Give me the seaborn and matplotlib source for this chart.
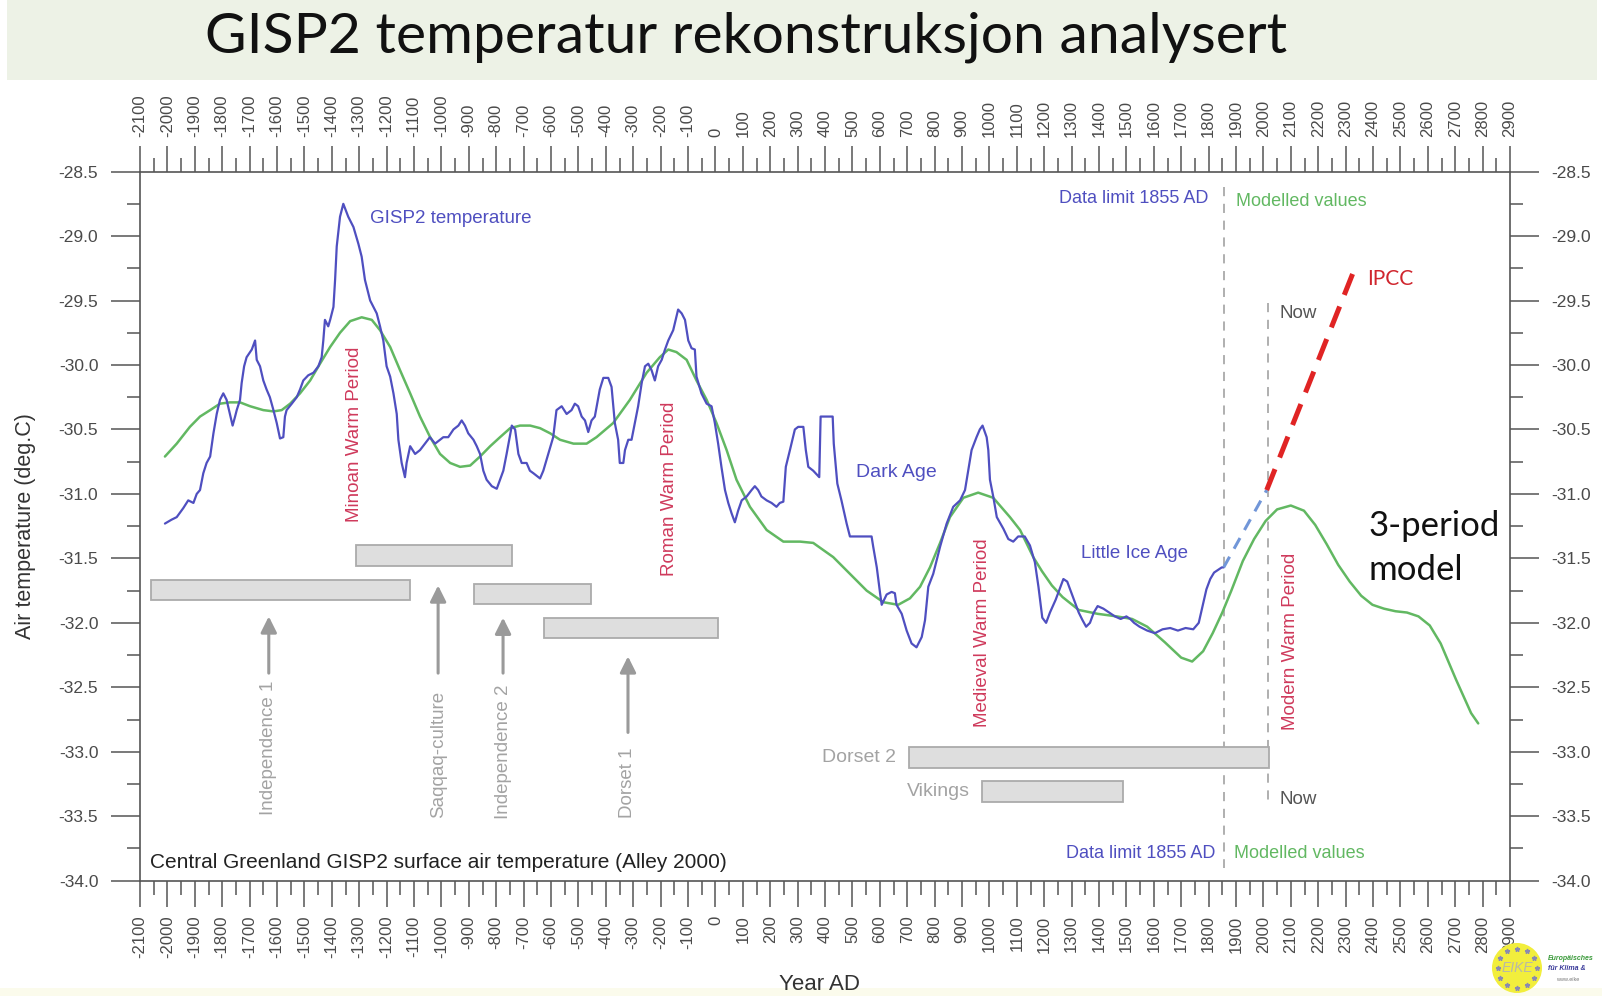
import matplotlib
matplotlib.use("Agg")
import matplotlib.pyplot as plt
from matplotlib.patches import Rectangle, Ellipse
from matplotlib.ticker import MultipleLocator, FormatStrFormatter
import numpy as np
import seaborn as sns

sns.set_theme(style="white")
plt.rcParams["font.family"] = ["Liberation Sans", "DejaVu Sans"]
plt.rcParams["axes.unicode_minus"] = False

# ---- GISP2 reconstructed surface air temperature (Alley 2000) ----
gisp2_year = [
    -2009, -1985, -1966, -1942, -1924, -1905, -1893, -1881, -1869, -1857, -1844, -1832,
    -1820, -1808, -1796, -1784, -1772, -1762, -1753, -1747, -1735, -1729, -1720, -1711,
    -1692, -1680, -1674, -1662, -1650, -1638, -1626, -1613, -1601, -1589, -1577, -1571,
    -1565, -1546, -1528, -1516, -1504, -1486, -1467, -1449, -1437, -1431, -1425, -1413,
    -1406, -1394, -1388, -1382, -1370, -1358, -1340, -1321, -1303, -1291, -1279, -1260,
    -1236, -1224, -1212, -1200, -1187, -1175, -1163, -1157, -1145, -1133, -1127, -1114,
    -1096, -1078, -1060, -1042, -1023, -1005, -993, -975, -956, -938, -926, -914,
    -902, -883, -871, -859, -847, -835, -816, -798, -786, -774, -762, -743,
    -731, -719, -707, -689, -677, -664, -640, -628, -610, -592, -580, -561,
    -543, -525, -513, -501, -488, -476, -464, -452, -440, -422, -409, -391,
    -379, -367, -355, -349, -336, -330, -318, -306, -294, -282, -269, -257,
    -245, -233, -221, -209, -196, -184, -172, -154, -136, -123, -111, -99,
    -87, -75, -69, -51, -32, -14, -2, 10, 22, 35, 47, 59,
    71, 83, 96, 114, 132, 144, 156, 168, 187, 205, 223, 235,
    248, 257, 272, 290, 302, 321, 330, 339, 357, 379, 384, 428,
    432, 445, 460, 479, 491, 570, 576, 589, 601, 607, 625, 643,
    655, 661, 680, 698, 716, 734, 753, 765, 777, 795, 820, 844,
    868, 893, 911, 935, 953, 965, 975, 990, 996, 1002, 1014, 1027,
    1051, 1069, 1087, 1105, 1129, 1148, 1166, 1179, 1193, 1207, 1221, 1242,
    1256, 1270, 1284, 1298, 1312, 1326, 1340, 1353, 1367, 1381, 1395, 1416,
    1437, 1458, 1479, 1500, 1514, 1528, 1548, 1576, 1604, 1632, 1660, 1688,
    1716, 1744, 1764, 1778, 1792, 1806, 1820, 1834, 1848, 1855,
]
gisp2_temp = [
    -31.23, -31.20, -31.18, -31.11, -31.05, -31.07, -31.00, -30.97, -30.84, -30.76, -30.71, -30.53,
    -30.38, -30.27, -30.22, -30.27, -30.38, -30.47, -30.40, -30.35, -30.27, -30.14, -30.01, -29.94,
    -29.88, -29.81, -29.96, -30.01, -30.12, -30.19, -30.25, -30.35, -30.45, -30.57, -30.56, -30.40,
    -30.35, -30.30, -30.25, -30.19, -30.12, -30.08, -30.06, -30.01, -29.94, -29.81, -29.65, -29.70,
    -29.65, -29.55, -29.34, -29.08, -28.85, -28.75, -28.85, -28.93, -29.06, -29.16, -29.34, -29.50,
    -29.60, -29.70, -29.81, -30.01, -30.09, -30.22, -30.38, -30.58, -30.76, -30.87, -30.76, -30.63,
    -30.69, -30.66, -30.61, -30.56, -30.61, -30.58, -30.56, -30.56, -30.50, -30.47, -30.43, -30.47,
    -30.53, -30.58, -30.63, -30.69, -30.82, -30.89, -30.94, -30.96, -30.89, -30.82, -30.69, -30.47,
    -30.50, -30.69, -30.76, -30.76, -30.82, -30.84, -30.88, -30.82, -30.69, -30.56, -30.35, -30.32,
    -30.38, -30.35, -30.30, -30.32, -30.40, -30.43, -30.52, -30.43, -30.40, -30.19, -30.10, -30.10,
    -30.17, -30.45, -30.58, -30.76, -30.76, -30.66, -30.58, -30.58, -30.45, -30.32, -30.14, -30.01,
    -29.99, -30.04, -30.12, -30.01, -29.96, -29.88, -29.81, -29.73, -29.57, -29.60, -29.65, -29.81,
    -29.87, -29.88, -30.09, -30.22, -30.30, -30.32, -30.45, -30.61, -30.79, -30.97, -31.07, -31.15,
    -31.22, -31.13, -31.05, -31.02, -30.97, -30.94, -30.97, -31.02, -31.05, -31.07, -31.10, -31.07,
    -31.06, -30.79, -30.66, -30.50, -30.48, -30.48, -30.66, -30.79, -30.82, -30.87, -30.40, -30.40,
    -30.61, -30.92, -31.05, -31.23, -31.33, -31.33, -31.41, -31.57, -31.77, -31.86, -31.78, -31.76,
    -31.77, -31.86, -31.93, -32.06, -32.16, -32.19, -32.11, -31.98, -31.72, -31.62, -31.41, -31.23,
    -31.10, -31.05, -30.97, -30.66, -30.56, -30.50, -30.47, -30.56, -30.66, -30.89, -31.02, -31.18,
    -31.27, -31.35, -31.37, -31.33, -31.33, -31.40, -31.53, -31.72, -31.96, -32.00, -31.92, -31.82,
    -31.74, -31.66, -31.68, -31.76, -31.84, -31.92, -31.98, -32.03, -32.00, -31.92, -31.87, -31.89,
    -31.92, -31.95, -31.97, -31.95, -31.97, -32.00, -32.03, -32.06, -32.08, -32.05, -32.04, -32.06,
    -32.04, -32.05, -32.00, -31.87, -31.74, -31.66, -31.61, -31.59, -31.57, -31.57,
]

# ---- 3-period model ----
model_year = [
    -2009, -1966, -1918, -1881, -1844, -1808, -1772, -1735, -1698, -1650, -1613, -1583,
    -1552, -1516, -1479, -1443, -1406, -1370, -1333, -1291, -1254, -1224, -1187, -1151,
    -1114, -1078, -1041, -1005, -968, -932, -895, -859, -822, -786, -749, -713,
    -676, -640, -603, -567, -518, -470, -434, -373, -312, -251, -203, -172,
    -142, -105, -69, -32, 4, 41, 77, 126, 187, 248, 309, 357,
    430, 491, 552, 613, 667, 710, 747, 783, 820, 856, 905, 959,
    1014, 1075, 1112, 1160, 1192, 1228, 1267, 1326, 1395, 1465, 1521, 1576,
    1640, 1700, 1740, 1780, 1815, 1850, 1883, 1925, 1966, 2008, 2050, 2100,
    2148, 2189, 2231, 2273, 2315, 2357, 2398, 2440, 2482, 2524, 2566, 2607,
    2647, 2703, 2758, 2784,
]
model_temp = [
    -30.71, -30.61, -30.48, -30.40, -30.35, -30.30, -30.29, -30.29, -30.32, -30.35, -30.36, -30.35,
    -30.30, -30.22, -30.12, -29.99, -29.86, -29.75, -29.66, -29.63, -29.65, -29.73, -29.86, -30.04,
    -30.22, -30.40, -30.56, -30.69, -30.76, -30.79, -30.78, -30.71, -30.63, -30.56, -30.49, -30.47,
    -30.47, -30.49, -30.53, -30.58, -30.61, -30.61, -30.56, -30.45, -30.27, -30.06, -29.94, -29.88,
    -29.90, -29.96, -30.12, -30.27, -30.45, -30.66, -30.89, -31.10, -31.28, -31.37, -31.37, -31.38,
    -31.49, -31.62, -31.75, -31.84, -31.86, -31.81, -31.72, -31.57, -31.38, -31.18, -31.03, -30.99,
    -31.03, -31.18, -31.28, -31.49, -31.60, -31.71, -31.80, -31.90, -31.93, -31.95, -31.97, -32.03,
    -32.15, -32.27, -32.30, -32.22, -32.08, -31.92, -31.75, -31.52, -31.35, -31.21, -31.12, -31.09,
    -31.13, -31.24, -31.39, -31.55, -31.68, -31.79, -31.86, -31.89, -31.91, -31.92, -31.95, -32.02,
    -32.16, -32.44, -32.70, -32.78,
]

# ---- extrapolations after the data limit ----
bridge_year = [1855, 2012]
bridge_temp = [-31.57, -30.97]
ipcc_year = [2012, 2330]
ipcc_temp = [-30.97, -29.27]

data_limit_year = 1855
now_year = 2015

# ---- settlement periods in Greenland ----
culture_names = ["Independence 1", "Saqqaq-culture", "Independence 2", "Dorset 1", "Dorset 2", "Vikings"]
culture_start = [-2059, -1312, -881, -625, 705, 973]
culture_end = [-1114, -744, -454, 11, 2019, 1489]
culture_level = [-31.745, -31.48, -31.775, -32.04, -33.045, -33.31]

arrow_year = [-1630, -1012, -775, -319]
arrow_tip = [-31.95, -31.71, -31.96, -32.26]
arrow_tail = [-32.39, -32.39, -32.39, -32.85]
arrow_label_level = [-32.97, -33.02, -33.00, -33.24]

period_names = ["Minoan Warm Period", "Roman Warm Period", "Medieval Warm Period", "Modern Warm Period"]
period_year = [-1317, -169, 976, 2098]
period_level = [-30.54, -30.96, -32.08, -32.14]

BLUE = "#4f4fc0"
GREEN = "#62b862"
RED = "#cf3a5c"
GREY_TXT = "#a3a3a3"

fig = plt.figure(figsize=(16.02, 9.96), dpi=100)
fig.patch.set_facecolor("white")

# header band and footer strip
fig.add_artist(Rectangle((7 / 1602, 1 - 80 / 996), 1590 / 1602, 80 / 996,
                         transform=fig.transFigure, facecolor="#edf2e6", edgecolor="none", zorder=0))
fig.add_artist(Rectangle((0, 0), 1, 8 / 996, transform=fig.transFigure,
                         facecolor="#fbfbec", edgecolor="none", zorder=0))
fig.text(0.466, 0.963, "GISP2 temperatur rekonstruksjon analysert", fontsize=41,
         family=["Lato", "DejaVu Sans"], ha="center", va="center", color="#111111")

ax = fig.add_axes([140 / 1602, 1 - 880.7 / 996, 1370 / 1602, 709.1 / 996])

# temperature series
sns.lineplot(x=model_year, y=model_temp, ax=ax, color=GREEN, linewidth=1.8,
             estimator=None, sort=False, zorder=3)
sns.lineplot(x=gisp2_year, y=gisp2_temp, ax=ax, color=BLUE, linewidth=1.6,
             estimator=None, sort=False, zorder=4)
ax.plot(bridge_year, bridge_temp, color="#7196d8", linewidth=2.2, dashes=(4, 3), zorder=4)
ax.plot(ipcc_year, ipcc_temp, color="#e02424", linewidth=3.6, dashes=(4.5, 2.5), zorder=4)

# data limit / now markers
ax.plot([data_limit_year] * 2, [-28.62, -33.90], color="#9a9a9a", linewidth=1.1, dashes=(6, 5), zorder=2)
ax.plot([now_year] * 2, [-29.52, -33.43], color="#9a9a9a", linewidth=1.1, dashes=(6, 5), zorder=2)

# culture bars
widths = [e - s for s, e in zip(culture_start, culture_end)]
ax.barh(culture_level, widths, left=culture_start, height=0.16, color="#dedede",
        edgecolor="#ababab", linewidth=1.3, zorder=2)

for x, tip, tail, lab_y, name in zip(arrow_year, arrow_tip, arrow_tail, arrow_label_level, culture_names):
    ax.annotate("", xy=(x, tip), xytext=(x, tail),
                arrowprops=dict(arrowstyle="-|>", color="#9a9a9a", lw=2.2, mutation_scale=24,
                                shrinkA=0, shrinkB=0), zorder=2)
    ax.text(x, lab_y, name, rotation=90, ha="center", va="center", fontsize=13.5, color=GREY_TXT)

ax.text(culture_start[4] - 45, culture_level[4], culture_names[4], ha="right", va="center",
        fontsize=14, color=GREY_TXT)
ax.text(culture_start[5] - 45, culture_level[5], culture_names[5], ha="right", va="center",
        fontsize=14, color=GREY_TXT)

for name, x, y in zip(period_names, period_year, period_level):
    ax.text(x, y, name, rotation=90, ha="center", va="center", fontsize=13.5, color=RED)

ax.text(-1261, -28.86, "GISP2 temperature", fontsize=13.5, color=BLUE, va="center")
ax.text(514, -30.83, "Dark Age", fontsize=14, color=BLUE, va="center")
ax.text(1334, -31.46, "Little Ice Age", fontsize=13.5, color=BLUE, va="center")
ax.text(1800, -28.71, "Data limit 1855 AD", fontsize=13, color=BLUE, va="center", ha="right")
ax.text(1901, -28.73, "Modelled values", fontsize=13, color=GREEN, va="center")
ax.text(1826, -33.79, "Data limit 1855 AD", fontsize=13, color=BLUE, va="center", ha="right")
ax.text(1893, -33.79, "Modelled values", fontsize=13, color=GREEN, va="center")
ax.text(2057, -29.60, "Now", fontsize=13.5, color="#555555", va="center")
ax.text(2057, -33.37, "Now", fontsize=13.5, color="#555555", va="center")
ax.text(2378, -29.33, "IPCC", fontsize=15, color="#d0262e", va="center",
        family=["Lato", "DejaVu Sans"])
ax.text(2385, -31.25, "3-period", fontsize=25, color="#111111", va="center",
        family=["Lato", "DejaVu Sans"])
ax.text(2385, -31.59, "model", fontsize=25, color="#111111", va="center",
        family=["Lato", "DejaVu Sans"])
ax.text(-2063, -33.86, "Central Greenland GISP2 surface air temperature (Alley 2000)",
        fontsize=15, color="#222222", va="center")

# axes, ticks and labels
ax.set_xlim(-2100, 2900)
ax.set_ylim(-34.0, -28.5)
ax.xaxis.set_major_locator(MultipleLocator(100))
ax.xaxis.set_minor_locator(MultipleLocator(50))
ax.yaxis.set_major_locator(MultipleLocator(0.5))
ax.yaxis.set_minor_locator(MultipleLocator(0.25))
ax.yaxis.set_major_formatter(FormatStrFormatter("%.1f"))
ax.xaxis.set_major_formatter(FormatStrFormatter("%d"))

for side in ["left", "right", "top", "bottom"]:
    ax.spines[side].set_visible(True)
    ax.spines[side].set_color("#555555")
    ax.spines[side].set_linewidth(1.2)

ax.tick_params(axis="x", which="both", direction="out", top=True, bottom=True,
               labeltop=True, labelbottom=True, color="#555555", width=1.1)
ax.tick_params(axis="x", which="major", length=19, labelrotation=90, labelsize=12,
               labelcolor="#4a4a4a", pad=6)
ax.tick_params(axis="x", which="minor", length=10)
ax.tick_params(axis="y", which="both", direction="out", left=True, right=True,
               labelleft=True, labelright=True, color="#555555", width=1.1)
ax.tick_params(axis="y", which="major", length=21, labelsize=12.5, labelcolor="#4a4a4a", pad=9)
ax.tick_params(axis="y", which="minor", length=9.5)

ax.set_xlabel("Year AD", fontsize=16, color="#333333")
ax.set_ylabel("Air temperature (deg.C)", fontsize=15.5, color="#333333")
ax.xaxis.set_label_coords(0.496, -0.131)
ax.yaxis.set_label_coords(-0.076, 0.5)
ax.grid(False)

# EIKE emblem
cx, cy, r = 1517 / 1602, 1 - 968 / 996, 25
fig.add_artist(Ellipse((cx, cy), 2 * r / 1602, 2 * r / 996, transform=fig.transFigure,
                       facecolor="#f2ee3c", edgecolor="none", zorder=5))
ang = np.linspace(0, 2 * np.pi, 12, endpoint=False)
fig.add_artist(plt.Line2D(cx + 0.78 * r * np.cos(ang) / 1602, cy + 0.78 * r * np.sin(ang) / 996,
                          transform=fig.transFigure, linestyle="none", marker="*",
                          markersize=3.5, color="#8a8ab0", zorder=6))
fig.text(cx, cy, "EIKE", fontsize=10, style="italic", color="#b8b8a8", ha="center",
         va="center", zorder=7)
fig.text(1548 / 1602, 1 - 958 / 996, "Europäisches", fontsize=5, style="italic",
         color="#3a9a3a", ha="left", va="center", weight="bold")
fig.text(1548 / 1602, 1 - 968 / 996, "für Klima &", fontsize=5, style="italic",
         color="#3a3a9a", ha="left", va="center", weight="bold")
fig.text(1556 / 1602, 1 - 979 / 996, "www.eike", fontsize=4, color="#777777",
         ha="left", va="center")

fig.savefig("out.png", dpi=100, facecolor=fig.get_facecolor())
